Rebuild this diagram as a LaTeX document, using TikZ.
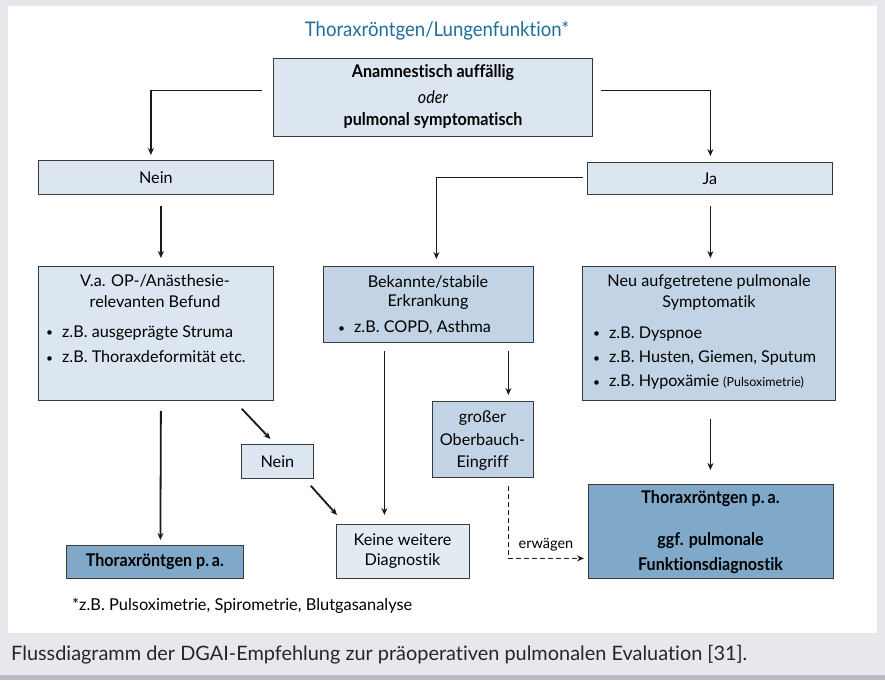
\documentclass[tikz,border=0pt]{standalone}
\usepackage{fontspec}
\setmainfont[Ligatures=NoCommon]{Lato}
\newfontfamily\condfont[FakeStretch=0.92,Ligatures=NoCommon]{Lato}
\usetikzlibrary{arrows.meta}
\definecolor{bggray}{HTML}{E6E8EB}
\definecolor{bottomgray}{HTML}{B8BBBF}
\definecolor{titleblue}{HTML}{1E6F9C}
\definecolor{lightfill}{HTML}{DCE6F0}
\definecolor{midfill}{HTML}{C2D3E5}
\definecolor{darkfill}{HTML}{80A8C8}
\definecolor{palefill}{HTML}{E2EAF2}
\definecolor{boxline}{HTML}{3A3A3A}
\newcommand{\bul}{\raisebox{0.5pt}{\fontsize{12}{12}\selectfont •}\hspace{9pt}}
\tikzset{
  box/.style={draw=boxline, line width=0.8pt, anchor=north west, inner sep=0pt},
  conn/.style={line width=1.8pt, draw=black!90, -{Stealth[length=7pt,width=6pt]}},
  dashconn/.style={line width=1.8pt, draw=black!90, dash pattern=on 5pt off 3pt, -{Stealth[length=7pt,width=6pt]}},
  txt/.style={inner sep=0pt, font=\fontsize{16.2}{19}\selectfont},
  btxt/.style={inner sep=0pt, font=\condfont\bfseries\fontsize{17.5}{20}\selectfont},
}
\begin{document}
\begin{tikzpicture}[x=1pt,y=-1pt]
\useasboundingbox (0,0) rectangle (885,680);
\fill[bggray] (0,0) rectangle (885,680);
\fill[white] (8,6) rectangle (877,633);
\fill[bottomgray] (0,675) rectangle (885,680);

\node[inner sep=0pt, text=titleblue, font=\condfont\fontsize{20.2}{23}\selectfont] (title) at (437,31) {Thoraxröntgen/Lungenfunktion*};

% boxes
\node[box, fill=lightfill, minimum width=319pt, minimum height=78pt] (top) at (273,58) {};
\node[btxt] (t1) at (433,73) {Anamnestisch auffällig};
\node[btxt, font=\condfont\itshape\fontsize{17.5}{20}\selectfont] (t2) at (433,97) {oder};
\node[btxt] (t3) at (433,120) {pulmonal symptomatisch};

\node[box, fill=lightfill, minimum width=235pt, minimum height=34pt] (nein) at (38,160) {};
\node[txt] (neint) at (nein.center) {Nein};
\node[box, fill=lightfill, minimum width=245pt, minimum height=32pt] (ja) at (587,162) {};
\node[txt] (jat) at (ja.center) {Ja};

\node[box, fill=lightfill, minimum width=235pt, minimum height=134pt] (va) at (38,266) {};
\node[txt] (va1) at (155,281) {V.a. OP-/Anästhesie-};
\node[txt] (va2) at (155,302) {relevanten Befund};
\node[txt, anchor=west] (va3) at (46,333) {\bul z.B. ausgeprägte Struma};
\node[txt, anchor=west] (va4) at (46,357) {\bul z.B. Thoraxdeformität etc.};

\node[box, fill=midfill, minimum width=210pt, minimum height=76pt] (bek) at (323,266) {};
\node[txt] (bek1) at (428,282) {Bekannte/stabile};
\node[txt] (bek2) at (428,302) {Erkrankung};
\node[txt, anchor=west] (bek3) at (338,328) {\bul z.B. COPD, Asthma};

\node[box, fill=midfill, minimum width=253pt, minimum height=134pt] (neu) at (582,266) {};
\node[txt] (neu1) at (709,282) {Neu aufgetretene pulmonale};
\node[txt] (neu2) at (709,303) {Symptomatik};
\node[txt, anchor=west] (neu3) at (593,334) {\bul z.B. Dyspnoe};
\node[txt, anchor=west] (neu4) at (593,358) {\bul z.B. Husten, Giemen, Sputum};
\node[txt, anchor=west] (neu5) at (593,382) {\bul z.B. Hypoxämie {\fontsize{12.5}{14}\selectfont(Pulsoximetrie)}};

\node[box, fill=lightfill, minimum width=72pt, minimum height=34pt] (nein2) at (241,444) {};
\node[txt] (nein2t) at (nein2.center) {Nein};

\node[box, fill=midfill, minimum width=101pt, minimum height=76pt] (gross) at (432,401) {};
\node[txt] (g1) at (482.5,418) {großer};
\node[txt] (g2) at (482.5,440) {Oberbauch-};
\node[txt] (g3) at (482.5,463) {Eingriff};

\node[box, fill=palefill, minimum width=133pt, minimum height=54pt] (keine) at (336,524) {};
\node[txt] (k1) at (402.5,540) {Keine weitere};
\node[txt] (k2) at (402.5,561) {Diagnostik};

\node[box, fill=darkfill, minimum width=177pt, minimum height=33pt] (thx) at (66,545) {};
\node[btxt] (thxt) at (thx.center) {Thoraxröntgen p.\,a.};

\node[box, fill=darkfill, minimum width=245pt, minimum height=94pt] (final) at (588,484) {};
\node[btxt] (f1) at (710.5,499) {Thoraxröntgen p.\,a.};
\node[btxt] (f2) at (710.5,541) {ggf. pulmonale};
\node[btxt] (f3) at (710.5,566) {Funktionsdiagnostik};

% connectors
\draw[conn] ([xshift=-11pt,yshift=7pt]top.west) -| ([xshift=-5pt,yshift=5pt]nein.north);
\draw[conn] ([xshift=8pt,yshift=7pt]top.east) -| ([xshift=0.5pt,yshift=6pt]ja.north);
\draw[conn] ([xshift=-4pt,yshift=1pt]ja.west) -| ([xshift=8pt,yshift=7pt]bek.north);
\draw[conn] ([xshift=5pt,yshift=-11pt]nein.south) -- ([xshift=5pt,yshift=8pt]va.north);
\draw[conn] ([xshift=0.5pt,yshift=-11pt]ja.south) -- ([xshift=1.5pt,yshift=8pt]neu.north);
\draw[conn] ([xshift=5pt,yshift=-10pt]va.south) -- ([xshift=5.5pt,yshift=5pt]thx.north);
\draw[conn] ([xshift=-32pt,yshift=-8pt]va.south east) -- ([xshift=-7pt,yshift=5pt]nein2.north);
\draw[conn] ([xshift=-3pt,yshift=-7pt]nein2.south east) -- ([xshift=1pt,yshift=9pt]keine.north west);
\draw[conn] ([xshift=-44pt,yshift=-8pt]bek.south) -- ([xshift=-18.5pt,yshift=9pt]keine.north);
\draw[conn] ([xshift=80pt,yshift=-8pt]bek.south) -- ([xshift=25.5pt,yshift=6pt]gross.north);
\draw[dashconn] ([xshift=25.5pt,yshift=-8pt]gross.south) |- ([xshift=-4pt,yshift=-27pt]final.west);
\draw[conn] ([xshift=1.5pt,yshift=-18pt]neu.south) -- ([xshift=-0.5pt,yshift=14pt]final.north);
\node[inner sep=0pt, font=\fontsize{14.5}{17}\selectfont] (erw) at (546,545) {erwägen};

\node[inner sep=0pt, anchor=west, font=\fontsize{16.4}{19}\selectfont] (foot) at (72,606) {*z.B. Pulsoximetrie, Spirometrie, Blutgasanalyse};
\node[inner sep=0pt, anchor=west, font=\fontsize{19.9}{22}\selectfont, text=black!85] (cap) at (11,655) {Flussdiagramm der DGAI-Empfehlung zur präoperativen pulmonalen Evaluation [31].};
\end{tikzpicture}
\end{document}
